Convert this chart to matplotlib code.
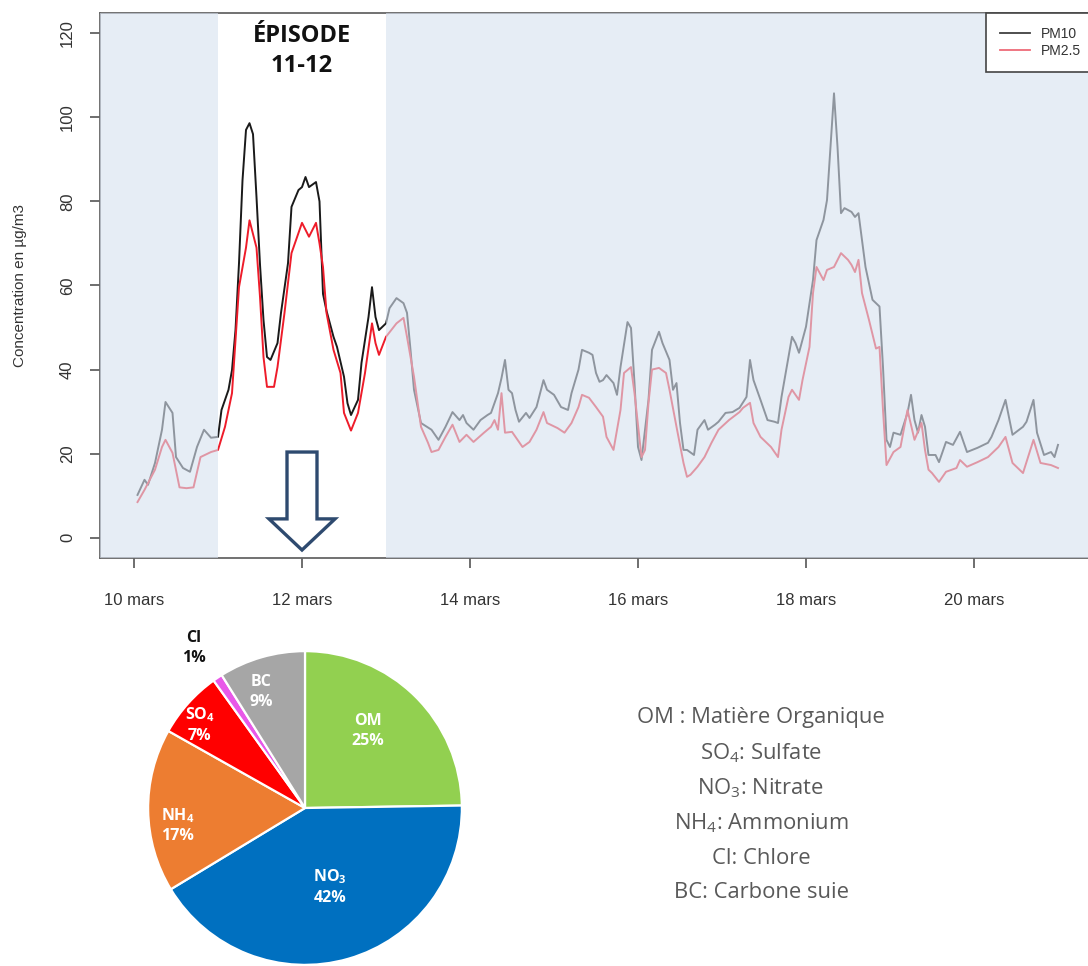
import numpy as np
import matplotlib
matplotlib.use("Agg")
import matplotlib.pyplot as plt
from matplotlib.patches import FancyArrow
from matplotlib.lines import Line2D

plt.rcParams['mathtext.fontset'] = 'custom'
plt.rcParams['mathtext.rm'] = 'Open Sans'
plt.rcParams['mathtext.bf'] = 'Open Sans:bold'
plt.rcParams['mathtext.it'] = 'Open Sans:italic'

# ---- hourly concentrations (hours after 10 mars 00:00), µg/m3 ----
pm10_hours = [1, 3, 4, 6, 8, 9, 11, 12, 14, 16, 18, 20, 22, 24, 25, 27, 28, 29, 30, 31,
              32, 33, 34, 35, 36, 37, 38, 39, 41, 42, 44, 45, 47, 48, 49, 50, 52, 53, 54, 55,
              57, 58, 60, 61, 62, 64, 65, 67, 68, 69, 70, 72, 73, 75, 77, 78, 79, 80, 82, 85,
              87, 89, 91, 93, 94, 95, 97, 99, 101, 102, 104, 105, 106, 107, 108, 109, 110, 112, 113, 115,
              117, 118, 120, 122, 124, 125, 127, 128, 130, 131, 132, 133, 134, 135, 137, 138, 139, 141, 142, 143,
              144, 145, 147, 148, 150, 151, 153, 154, 155, 156, 157, 158, 160, 161, 163, 164, 166, 167, 169, 171,
              173, 175, 176, 177, 179, 181, 183, 184, 185, 187, 188, 189, 190, 192, 194, 195, 197, 198, 199, 200,
              201, 202, 203, 205, 206, 207, 208, 209, 211, 213, 214, 215, 216, 217, 219, 221, 222, 223, 224, 225,
              226, 227, 229, 230, 232, 234, 236, 238, 241, 244, 245, 247, 249, 251, 254, 255, 257, 258, 260, 262,
              263, 264]
pm10_values = [10.2, 13.8, 12.6, 17.8, 25.7, 32.3, 29.7, 19.2, 16.6, 15.7, 21.6, 25.7, 23.8, 24.0, 30.4, 35.2, 39.9, 49.4, 65.3, 85.0,
               97.0, 98.6, 96.0, 81.0, 65.0, 51.8, 43.0, 42.3, 46.3, 53.5, 65.3, 78.7, 82.7, 83.4, 85.8, 83.4, 84.6, 80.0, 58.0, 54.0,
               47.8, 45.4, 38.3, 32.0, 29.2, 32.8, 41.6, 52.5, 59.6, 52.5, 49.4, 51.0, 54.6, 57.0, 55.8, 53.5, 44.7, 35.2, 27.3, 25.7,
               23.3, 26.4, 29.9, 28.0, 29.2, 27.3, 25.7, 28.0, 29.2, 29.7, 34.4, 38.0, 42.3, 35.2, 34.4, 30.4, 27.6, 29.7, 28.5, 31.1,
               37.5, 35.2, 34.0, 31.1, 30.4, 34.4, 40.0, 44.7, 44.0, 43.5, 39.2, 37.1, 37.5, 38.7, 36.8, 34.0, 40.6, 51.3, 49.9, 36.8,
               21.6, 18.5, 32.8, 44.7, 49.0, 46.3, 42.3, 35.2, 36.8, 27.3, 20.9, 20.9, 19.7, 25.7, 28.0, 25.7, 26.9, 27.6, 29.7, 29.9,
               30.9, 33.5, 42.3, 37.5, 32.8, 28.0, 27.6, 27.3, 33.5, 43.0, 47.8, 46.3, 44.0, 50.2, 61.3, 70.8, 75.6, 80.3, 93.0, 105.7,
               93.0, 77.2, 78.4, 77.5, 76.3, 77.2, 70.8, 64.4, 56.6, 55.0, 40.6, 23.3, 21.6, 25.0, 24.5, 29.7, 34.0, 28.0, 25.0, 29.2,
               26.4, 19.7, 19.7, 18.0, 22.8, 22.1, 25.2, 20.4, 21.4, 22.6, 24.0, 28.0, 32.8, 24.5, 26.4, 27.6, 32.8, 25.0, 19.7, 20.4,
               19.2, 22.1]

pm25_hours = [1, 3, 6, 8, 9, 11, 13, 15, 17, 19, 22, 24, 26, 28, 29, 30, 32, 33, 35, 36,
              37, 38, 40, 41, 43, 45, 47, 48, 50, 52, 53, 54, 55, 57, 59, 60, 62, 64, 66, 68,
              69, 70, 72, 75, 77, 78, 80, 82, 84, 85, 87, 89, 91, 93, 95, 97, 100, 102, 103, 104,
              105, 106, 108, 109, 111, 113, 115, 117, 118, 121, 123, 125, 127, 128, 130, 132, 134, 135, 137, 139,
              140, 142, 143, 145, 146, 147, 148, 150, 152, 153, 155, 157, 158, 159, 161, 163, 165, 167, 170, 173,
              174, 176, 177, 179, 182, 184, 185, 187, 188, 190, 191, 193, 194, 195, 197, 198, 200, 202, 204, 205,
              206, 207, 208, 210, 212, 213, 214, 215, 217, 219, 221, 223, 225, 226, 227, 228, 230, 232, 235, 236,
              238, 241, 244, 247, 249, 251, 254, 257, 259, 262, 264]
pm25_values = [8.5, 11.4, 16.2, 21.6, 23.3, 20.2, 12.0, 11.8, 12.0, 19.2, 20.4, 20.9, 26.4, 34.4, 47.0, 59.6, 69.0, 75.5, 69.0, 57.3,
               43.0, 35.9, 35.9, 40.6, 53.5, 67.7, 72.5, 74.9, 71.6, 74.9, 70.0, 64.4, 53.5, 44.7, 39.2, 29.7, 25.5, 29.7, 39.2, 51.0,
               46.3, 43.5, 47.8, 51.0, 52.3, 47.8, 38.3, 26.4, 22.6, 20.4, 20.9, 24.0, 26.9, 22.8, 24.5, 22.8, 25.0, 26.4, 28.0, 25.7,
               34.4, 25.0, 25.2, 24.0, 21.6, 22.8, 25.7, 29.9, 27.3, 26.1, 25.0, 27.3, 31.1, 34.0, 33.3, 31.1, 28.8, 24.0, 20.9, 30.4,
               39.2, 40.6, 34.4, 19.2, 20.9, 32.1, 40.0, 40.4, 39.2, 35.2, 26.4, 17.8, 14.5, 15.0, 16.9, 19.2, 22.6, 25.7, 28.0, 29.9,
               30.9, 32.1, 27.3, 24.0, 21.6, 19.2, 25.7, 33.5, 35.2, 32.8, 37.5, 45.4, 58.2, 64.4, 61.3, 63.7, 64.4, 67.7, 66.1, 64.9,
               63.2, 66.1, 58.2, 51.8, 45.0, 45.4, 30.4, 17.3, 20.4, 21.6, 30.4, 23.3, 27.3, 20.9, 16.2, 15.4, 13.3, 15.7, 16.6, 18.5,
               16.9, 18.0, 19.2, 21.6, 24.0, 17.8, 15.4, 23.3, 17.8, 17.3, 16.6]

tick_days = [10, 12, 14, 16, 18, 20]
tick_labels = ["10 mars", "12 mars", "14 mars", "16 mars", "18 mars", "20 mars"]
y_ticks = [0, 20, 40, 60, 80, 100, 120]
episode_start, episode_end = 11.0, 13.0

# ---- PM composition during the episode (%) ----
species = ["OM", "NO$_\\mathbf{3}$", "NH$_\\mathbf{4}$", "SO$_\\mathbf{4}$", "Cl", "BC"]
shares = [25, 42, 17, 7, 1, 9]
species_colors = ["#92D050", "#0070C0", "#ED7D31", "#FF0000", "#E858E8", "#A6A6A6"]

legend_lines = ["OM : Matière Organique", "SO$_\\mathrm{4}$: Sulfate", "NO$_\\mathrm{3}$: Nitrate",
                "NH$_\\mathrm{4}$: Ammonium", "Cl: Chlore", "BC: Carbone suie"]

W, H = 1088, 966
fig = plt.figure(figsize=(W / 100, H / 100), dpi=100)
fig.patch.set_facecolor("white")

# ---------------- time series ----------------
ax = fig.add_axes([100 / W, (H - 558) / H, 988 / W, 545 / H])
ax.set_facecolor("white")
t10 = 10 + np.array(pm10_hours) / 24.0
t25 = 10 + np.array(pm25_hours) / 24.0
ax.plot(t10, pm10_values, color="#1a1a1a", lw=1.4, zorder=2, label="PM10")
ax.plot(t25, pm25_values, color="#ee1c2a", lw=1.4, zorder=2, label="PM2.5")

x0 = 10 - 34 / 84.0
x1 = x0 + 988 / 84.0
ax.set_xlim(x0, x1)
ax.set_ylim(-4.8, 124.8)

# veil outside the episode window
veil = (0.843, 0.886, 0.941)
ax.axvspan(x0, episode_start, color=veil, alpha=0.62, lw=0, zorder=3)
ax.axvspan(episode_end, x1, color=veil, alpha=0.62, lw=0, zorder=3)

ax.set_xticks(tick_days)
ax.set_xticklabels(tick_labels, fontsize=12, family="Liberation Sans", color="#333333")
ax.set_yticks(y_ticks)
ax.set_yticklabels([str(v) for v in y_ticks], fontsize=12, family="Liberation Sans",
                   color="#333333", rotation=90, va="center")
ax.tick_params(axis="x", length=7, width=1.2, color="#555555", pad=18)
ax.tick_params(axis="y", length=7, width=1.2, color="#555555", pad=11)
for side in ["left", "bottom", "top"]:
    ax.spines[side].set_color("#666666")
    ax.spines[side].set_linewidth(1.3)
ax.spines["right"].set_visible(False)
ax.set_ylabel("Concentration en µg/m3", fontsize=11, family="Liberation Sans",
              color="#333333", labelpad=24)

handles = [Line2D([], [], color="#404040", lw=1.3), Line2D([], [], color="#ee6b78", lw=1.3)]
leg = ax.legend(handles, ["PM10", "PM2.5"], loc="upper left",
                bbox_to_anchor=((986 - 100) / 988, 1.0), borderaxespad=0,
                fancybox=False, framealpha=1, edgecolor="#444444",
                prop={"family": "Liberation Sans", "size": 10},
                handlelength=2.15, handletextpad=0.8, labelspacing=0.25,
                borderpad=1.0)
leg.get_frame().set_linewidth(1.2)
leg.set_zorder(6)
for txt in leg.get_texts():
    txt.set_color("#333333")

ax.text(12.0, 115.8, "ÉPISODE\n11-12", ha="center", va="center", fontsize=17,
        fontweight="bold", family="Open Sans", color="#111111", linespacing=1.35, zorder=5)

ax.add_patch(FancyArrow(12.0, 20.4, 0, -23.3, width=0.357, head_width=0.786,
                        head_length=7.4, length_includes_head=True, fill=False,
                        ec="#2e4a6f", lw=2.4, joinstyle="miter", zorder=5))

# ---------------- composition pie ----------------
pax = fig.add_axes([(305 - 160) / W, (H - 808 - 160) / H, 320 / W, 320 / H])
wedges, _ = pax.pie(shares, colors=species_colors, startangle=90, counterclock=False,
                    wedgeprops=dict(edgecolor="white", linewidth=1.6))
pax.set_xlim(-1.02, 1.02)
pax.set_ylim(-1.02, 1.02)
pax.set_aspect("equal")
pax.axis("off")

label_pos = [(0.40, 0.49), (0.16, -0.50), (-0.81, -0.11), (-0.67, 0.53), (-0.71, 1.02), (-0.28, 0.74)]
for name, val, (lx, ly), col in zip(species, shares, label_pos, species_colors):
    color = "#111111" if name == "Cl" else "white"
    pax.text(lx, ly, f"{name}\n{val}%", ha="center", va="center", fontsize=11.5,
             fontweight="bold", family="Open Sans", color=color, linespacing=1.3,
             clip_on=False)

# ---------------- species legend ----------------
for i, line in enumerate(legend_lines):
    fig.text(761 / W, 1 - (718 + 35 * i) / H, line, ha="center", va="center",
             fontsize=15.8, family="Open Sans", color="#595959")

fig.savefig("out.png", dpi=100)
